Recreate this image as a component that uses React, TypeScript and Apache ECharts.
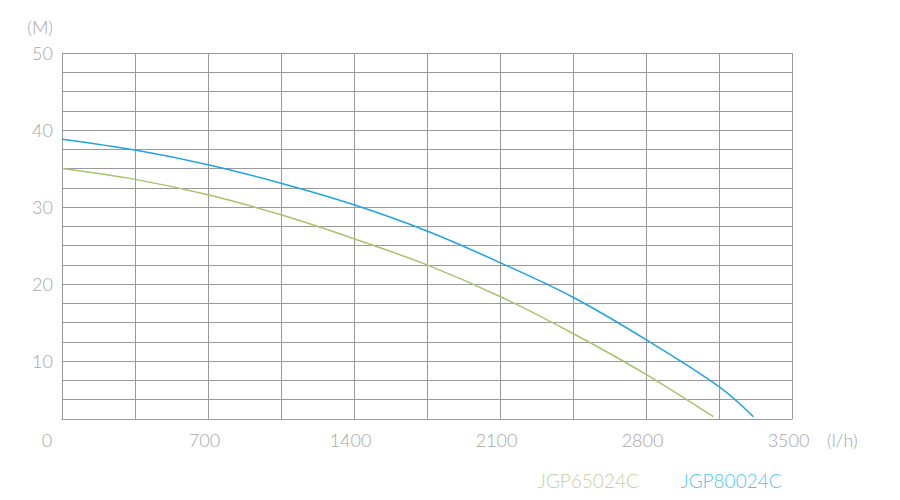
import React, { useEffect, useRef } from "react";
import * as echarts from "echarts";

const flowBlue = [0, 350, 700, 1050, 1400, 1750, 2100, 2450, 2800, 3150, 3315];
const headBlue = [38.8, 37.4, 35.5, 33.1, 30.3, 26.9, 22.8, 18.3, 12.8, 6.7, 2.8];
const flowGreen = [0, 350, 700, 1050, 1400, 1750, 2100, 2450, 2800, 3123];
const headGreen = [35.0, 33.6, 31.6, 29.0, 25.9, 22.5, 18.4, 13.6, 8.3, 2.8];
const seriesNames = ["JGP65024C", "JGP80024C"];
const lineColors = ["#a9c26e", "#1ea3e6"];
const legendColors = ["#c3d29a", "#52c3f0"];

const FONT = "Lato";
const GRID = "#9a9a9a";
const LABEL = "#a6a6a6";

export default function App() {
  const ref = useRef<HTMLDivElement>(null);
  useEffect(() => {
    if (!ref.current) return;
    const chart = echarts.init(ref.current, undefined, { renderer: "svg" });
    const pairs = (xs: number[], ys: number[]) => xs.map((x, i) => [x, ys[i]]);
    chart.setOption({
      animation: false,
      backgroundColor: "#ffffff",
      grid: { left: 62, top: 53, right: 108, bottom: 81, containLabel: false },
      legend: {
        left: 528,
        top: 466,
        icon: "none",
        itemWidth: 0,
        itemHeight: 0,
        itemGap: 37,
        selectedMode: false,
        textStyle: { fontFamily: FONT, fontSize: 19, fontWeight: 300 },
        data: seriesNames.map((n, i) => ({ name: n, textStyle: { color: legendColors[i] } })),
      },
      xAxis: {
        type: "value",
        min: 0,
        max: 3500,
        interval: 350,
        name: "(l/h)",
        nameLocation: "end",
        nameGap: 35,
        nameTextStyle: {
          color: LABEL,
          fontFamily: FONT,
          fontSize: 18,
          fontWeight: 300,
          verticalAlign: "top",
          padding: [12, 0, 0, 0],
        },
        axisLine: { show: true, lineStyle: { color: GRID, width: 1 } },
        axisTick: { show: false },
        splitLine: { show: true, lineStyle: { color: GRID, width: 1 } },
        axisLabel: {
          margin: 12,
          color: LABEL,
          fontFamily: FONT,
          fontSize: 18,
          fontWeight: 300,
          padding: [0, 7, 0, 0],
          showMaxLabel: true,
          showMinLabel: true,
          formatter: (v: number) => (v === 0 ? "{z|0}" : v % 700 === 0 ? String(v) : ""),
          rich: {
            z: {
              color: LABEL,
              fontFamily: FONT,
              fontSize: 18,
              fontWeight: 300,
              padding: [0, 23, 0, 0],
            },
          },
        },
      },
      yAxis: {
        type: "value",
        min: 2.5,
        max: 50,
        interval: 2.5,
        name: "(M)",
        nameLocation: "end",
        nameGap: 17,
        nameTextStyle: {
          color: LABEL,
          fontFamily: FONT,
          fontSize: 18,
          fontWeight: 300,
          align: "right",
          padding: [0, 9, 0, 0],
        },
        axisLine: { show: true, lineStyle: { color: GRID, width: 1 } },
        axisTick: { show: false },
        splitLine: { show: true, lineStyle: { color: GRID, width: 1 } },
        axisLabel: {
          margin: 9,
          color: LABEL,
          fontFamily: FONT,
          fontSize: 18,
          fontWeight: 300,
          showMaxLabel: true,
          formatter: (v: number) => (Math.abs(v % 10) < 1e-6 ? String(Math.round(v)) : ""),
        },
      },
      series: [
        {
          name: seriesNames[0],
          type: "line",
          smooth: 0.35,
          showSymbol: false,
          data: pairs(flowGreen, headGreen),
          lineStyle: { color: lineColors[0], width: 1.5 },
          itemStyle: { color: lineColors[0] },
        },
        {
          name: seriesNames[1],
          type: "line",
          smooth: 0.35,
          showSymbol: false,
          data: pairs(flowBlue, headBlue),
          lineStyle: { color: lineColors[1], width: 1.5 },
          itemStyle: { color: lineColors[1] },
        },
      ],
    });
    return () => chart.dispose();
  }, []);
  return <div ref={ref} style={{ width: 900, height: 500, position: "absolute", left: 0, top: 0 }} />;
}
